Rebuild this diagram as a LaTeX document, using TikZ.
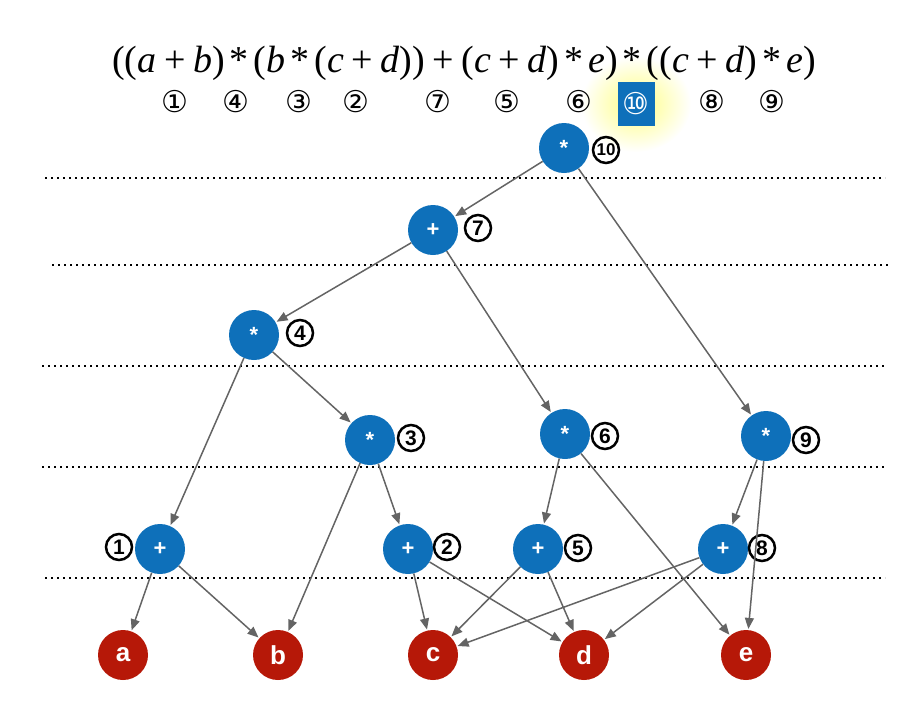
\documentclass[tikz,border=0pt]{standalone}
\usepackage{fontspec}
\setmainfont{Liberation Serif}
\newfontfamily\dejavu{DejaVu Sans}
\newfontfamily\arialf{Liberation Sans}
\usetikzlibrary{arrows.meta}
\definecolor{nodeblue}{RGB}{14,112,186}
\definecolor{leafred}{RGB}{182,24,8}
\definecolor{edgegray}{RGB}{100,100,100}
\newcommand\vi[1]{\textit{#1}}
\newcommand\pl{\hspace{0.2em}+\hspace{0.2em}}
\newcommand\ml{\hspace{0.13em}*\hspace{0.13em}}
\begin{document}
\begin{tikzpicture}[x=1pt,y=-1pt,
  op/.style={circle, fill=nodeblue, minimum size=50pt, inner sep=0pt, text=white, font=\arialf\bfseries\fontsize{22}{22}\selectfont},
  leaf/.style={circle, fill=leafred, minimum size=50pt, inner sep=0pt, text=white, font=\arialf\bfseries\fontsize{26}{26}\selectfont},
  num/.style={circle, draw=black, line width=2.5pt, minimum size=26pt, inner sep=0pt, font=\arialf\bfseries\fontsize{21}{21}\selectfont},
  cnum/.style={font=\dejavu\fontsize{30}{30}\selectfont, inner sep=0pt},
  arr/.style={draw=edgegray, line width=1.5pt, -{Triangle[length=11pt,width=9pt]}, shorten >=1pt},
  sepline/.style={line width=1.6pt, dash pattern=on 1.6pt off 4.4pt}
]
\useasboundingbox (0,0) rectangle (901,710);
% glow
\shade[inner color=yellow!50, outer color=white] (636,104) ellipse (55 and 48);
% formula
\node[inner sep=0pt] (formula) at (464,63) {\fontsize{38}{38}\selectfont
((\vi{a}\pl\vi{b})\ml(\vi{b}\ml(\vi{c}\pl\vi{d}))\pl(\vi{c}\pl\vi{d})\ml\vi{e})\ml((\vi{c}\pl\vi{d})\ml\vi{e})};
% circled order numbers
\node[cnum] (o1) at (175,102) {①};
\node[cnum] (o4) at (236,102) {④};
\node[cnum] (o3) at (299,102) {③};
\node[cnum] (o2) at (356,102) {②};
\node[cnum] (o7) at (438,102) {⑦};
\node[cnum] (o5) at (507,102) {⑤};
\node[cnum] (o6) at (579,102) {⑥};
\node[fill=nodeblue, minimum width=37pt, minimum height=44pt, inner sep=0pt, text=white, font=\dejavu\fontsize{30}{30}\selectfont] (o10) at (636,104) {⑩};
\node[cnum] (o8) at (712,102) {⑧};
\node[cnum] (o9) at (772,102) {⑨};
% dotted separators
\draw[sepline] (45,178) -- (885,178);
\draw[sepline] (52,265) -- (890,265);
\draw[sepline] (42,366) -- (885,366);
\draw[sepline] (42,467) -- (885,467);
\draw[sepline] (45,578) -- (885,578);
% operator nodes
\node[op] (n10) at (564,148) {*};
\node[op] (n7) at (433,230) {+};
\node[op] (n4) at (254,335) {*};
\node[op] (n3) at (370,440) {*};
\node[op] (n6) at (565,434) {*};
\node[op] (n9) at (766,436) {*};
\node[op] (n1) at (160,549) {+};
\node[op] (n2) at (408,549) {+};
\node[op] (n5) at (538,549) {+};
\node[op] (n8) at (723,549) {+};
% leaves
\node[leaf] (a) at (123,655) {a};
\node[leaf] (b) at (278,655) {b};
\node[leaf] (c) at (433,655) {c};
\node[leaf] (d) at (584,655) {d};
\node[leaf] (e) at (746,655) {e};
% order labels
\node[num] (l10) at (606,150) {\fontsize{17}{17}\selectfont 10};
\node[num] (l7) at (478,228) {7};
\node[num] (l4) at (300,333) {4};
\node[num] (l3) at (411,438) {3};
\node[num] (l6) at (605,436) {6};
\node[num] (l9) at (806,440) {9};
\node[num] (l1) at (119,547) {1};
\node[num] (l2) at (447,547) {2};
\node[num] (l5) at (578,548) {5};
\node[num] (l8) at (762,548) {8};
% edges
\draw[arr] (n10) -- (n7);
\draw[arr] (n10) -- (n9);
\draw[arr] (n7) -- (n4);
\draw[arr] (n7) -- (n6);
\draw[arr] (n4) -- (n1);
\draw[arr] (n4) -- (n3);
\draw[arr] (n3) -- (n2);
\draw[arr] (n3) -- (b);
\draw[arr] (n6) -- (n5);
\draw[arr] (n6) -- (e);
\draw[arr] (n9) -- (n8);
\draw[arr] (n9) -- (e);
\draw[arr] (n1) -- (a);
\draw[arr] (n1) -- (b);
\draw[arr] (n2) -- (c);
\draw[arr] (n2) -- (d);
\draw[arr] (n5) -- (c);
\draw[arr] (n5) -- (d);
\draw[arr] (n8) -- (c);
\draw[arr] (n8) -- (d);
\end{tikzpicture}
\end{document}
